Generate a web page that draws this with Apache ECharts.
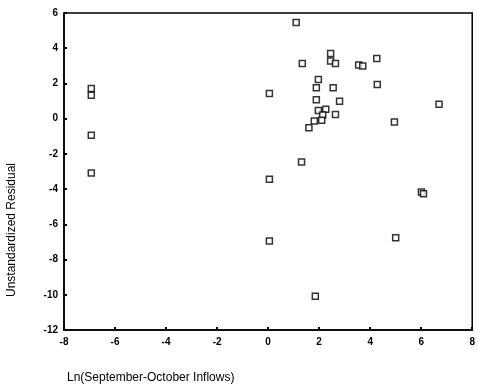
<!DOCTYPE html>
<html>
<head>
<meta charset="utf-8">
<script src="https://cdn.jsdelivr.net/npm/echarts@6/dist/echarts.min.js"></script>
<style>html,body{margin:0;padding:0;background:#fff;}#c{width:478px;height:390px;}</style>
</head>
<body>
<div id="c"></div>
<script>
var xValues = [-6.93, -6.93, -6.93, -6.93, 0.05, 0.05, 0.05, 1.10,
  1.34, 2.45, 2.45, 2.64, 3.55, 3.71, 4.26, 4.28, 1.97, 1.89, 2.55, 1.89, 2.80,
  1.97, 2.26, 2.14, 2.64, 1.81, 2.10, 1.60,
  1.31, 4.95, 6.70, 6.01, 6.09, 5.00, 1.85];
var yValues = [1.71, 1.33, -0.94, -3.09, 1.43, -3.44, -6.95, 5.46,
  3.13, 3.70, 3.28, 3.13, 3.05, 2.99, 3.41, 1.94, 2.22, 1.75, 1.75, 1.08, 0.99,
  0.46, 0.53, 0.21, 0.23, -0.13, -0.09, -0.51,
  -2.46, -0.19, 0.82, -4.16, -4.26, -6.76, -10.09];
var xTitle = 'Ln(September-October Inflows)';
var yTitle = 'Unstandardized Residual';

var pts = xValues.map(function (x, i) { return [x, yValues[i]]; });
var font = 'Liberation Sans, Arial, sans-serif';
var chart = echarts.init(document.getElementById('c'), null, {renderer: 'canvas'});
chart.setOption({
  animation: false,
  backgroundColor: '#fff',
  title: {
    text: xTitle, left: 62, top: 367,
    textStyle: {fontFamily: font, fontSize: 12, fontWeight: 'normal', color: '#000'}
  },
  graphic: [{
    type: 'text', x: 12, y: 230, rotation: Math.PI / 2,
    style: {text: yTitle, fill: '#000', font: '12px ' + font, align: 'center', verticalAlign: 'middle'}
  }],
  grid: {left: 64, right: 2, top: 13, bottom: 60, show: true, borderColor: '#000', borderWidth: 1.5},
  xAxis: {
    type: 'value', min: -8, max: 8, interval: 2,
    axisLine: {show: true, onZero: false, lineStyle: {color: '#000', width: 1.5}},
    axisTick: {show: true, length: 3, inside: true, lineStyle: {color: '#000', width: 2}},
    axisLabel: {fontFamily: font, fontSize: 10, fontWeight: 'bold', color: '#000', margin: 7},
    splitLine: {show: false}
  },
  yAxis: {
    type: 'value', min: -12, max: 6, interval: 2,
    axisLine: {show: true, onZero: false, lineStyle: {color: '#000', width: 1.5}},
    axisTick: {show: true, length: 3, inside: true, lineStyle: {color: '#000', width: 2}},
    axisLabel: {fontFamily: font, fontSize: 10, fontWeight: 'bold', color: '#000', margin: 6},
    splitLine: {show: false}
  },
  series: [{
    type: 'scatter', data: pts, symbol: 'rect', symbolSize: 6,
    itemStyle: {color: '#fff', borderColor: '#000', borderWidth: 1.5}
  }]
});
</script>
</body>
</html>
